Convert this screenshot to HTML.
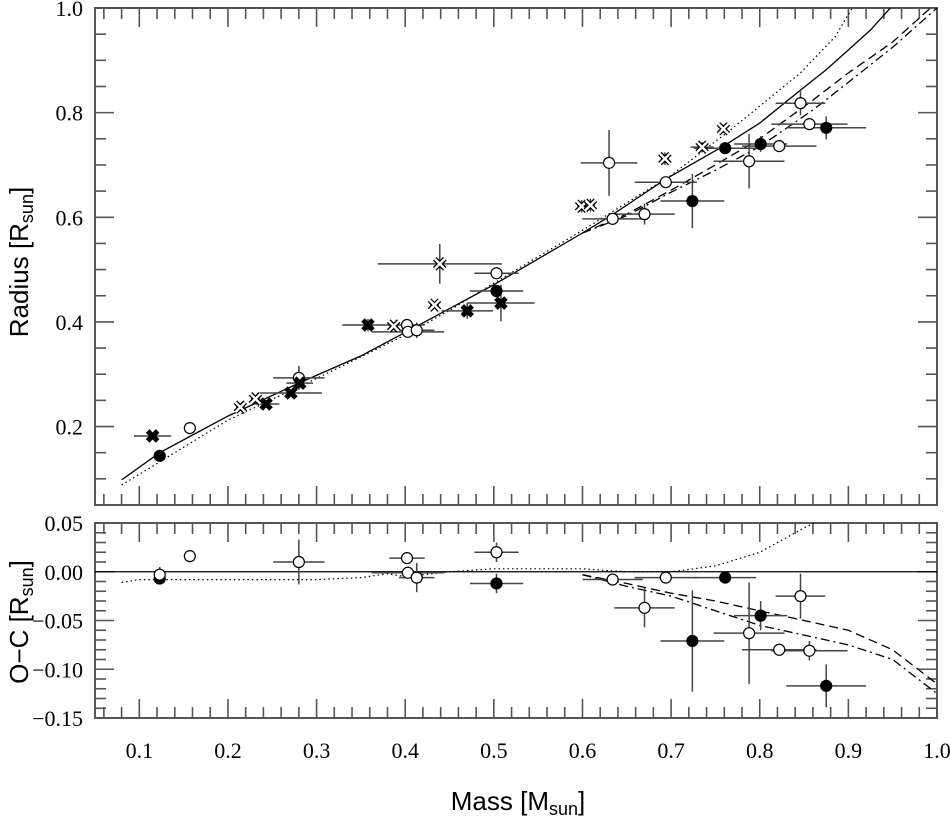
<!DOCTYPE html>
<html><head><meta charset="utf-8">
<style>
html,body{margin:0;padding:0;background:#fff;}
svg{display:block;}
.tl{font-family:"Liberation Serif","DejaVu Serif",serif;}
</style></head>
<body>
<svg id="chart" width="950" height="821" viewBox="0 0 950 821" xmlns="http://www.w3.org/2000/svg">
<defs>
<clipPath id="clipTop"><rect x="95" y="8" width="842" height="497"/></clipPath>
<clipPath id="clipBot"><rect x="95" y="523" width="842" height="195"/></clipPath>
</defs>
<g id="gTop"></g>
<g id="gBot"></g>
<text font-family="'Liberation Sans', sans-serif" font-size="26" transform="translate(28,262) rotate(-90)" text-anchor="middle">Radius [R<tspan font-size="18" dy="5">sun</tspan><tspan dy="-5">]</tspan></text>
<text font-family="'Liberation Sans', sans-serif" font-size="26" transform="translate(28,622) rotate(-90)" text-anchor="middle">O−C [R<tspan font-size="18" dy="5">sun</tspan><tspan dy="-5">]</tspan></text>
<text font-family="'Liberation Sans', sans-serif" font-size="26" x="518" y="810" text-anchor="middle">Mass [M<tspan font-size="18" dy="5">sun</tspan><tspan dy="-5">]</tspan></text>
</svg>
<script>
// ---- data ----
const openCircleMass   = [0.157,0.280,0.402,0.403,0.413,0.503,0.630,0.634,0.670,0.694,0.788,0.822,0.846,0.856];
const openCircleRadius = [0.197,0.293,0.394,0.381,0.384,0.493,0.704,0.597,0.606,0.667,0.707,0.736,0.818,0.778];
const openCircleMerr   = [0.006,0.029,0.020,0.041,0.020,0.025,0.032,0.034,0.034,0.035,0.040,0.042,0.028,0.043];
const openCircleRerr   = [0.004,0.023,0.005,0.005,0.015,0.010,0.063,0.005,0.020,0.010,0.052,0.005,0.023,0.010];
const filledCircleMass   = [0.123,0.503,0.724,0.761,0.801,0.875];
const filledCircleRadius = [0.144,0.459,0.631,0.732,0.740,0.771];
const filledCircleMerr   = [0.006,0.030,0.036,0.035,0.030,0.045];
const filledCircleRerr   = [0.005,0.010,0.052,0.005,0.015,0.022];
const filledCrossMass   = [0.115,0.243,0.271,0.281,0.358,0.470,0.508];
const filledCrossRadius = [0.182,0.243,0.264,0.283,0.394,0.421,0.436];
const filledCrossMerr   = [0.021,0.015,0.035,0.015,0.029,0.029,0.038];
const filledCrossRerr   = [0.006,0.005,0.005,0.010,0.012,0.015,0.035];
const openCrossMass   = [0.214,0.231,0.387,0.433,0.439,0.599,0.609,0.693,0.735,0.759];
const openCrossRadius = [0.237,0.253,0.392,0.432,0.511,0.621,0.623,0.712,0.734,0.769];
const openCrossMerr   = [0.005,0.005,0.005,0.005,0.070,0.005,0.005,0.003,0.013,0.003];
const openCrossRerr   = [0.005,0.005,0.005,0.005,0.038,0.012,0.012,0.012,0.010,0.008];
// residuals
const resOpenMass = [0.123,0.157,0.280,0.402,0.403,0.413,0.503,0.634,0.670,0.694,0.788,0.822,0.846,0.856];
const resOpenVal  = [-0.003,0.016,0.010,0.014,-0.001,-0.006,0.020,-0.008,-0.037,-0.006,-0.063,-0.080,-0.025,-0.081];
const resOpenMerr = [0.0,0.006,0.029,0.020,0.041,0.020,0.025,0.034,0.034,0.035,0.040,0.042,0.028,0.043];
const resOpenErr  = [0.008,0.005,0.023,0.005,0.005,0.015,0.010,0.005,0.020,0.005,0.052,0.005,0.023,0.010];
const resFilledMass = [0.123,0.503,0.724,0.761,0.801,0.875];
const resFilledVal  = [-0.007,-0.012,-0.071,-0.006,-0.045,-0.117];
const resFilledMerr = [0.0,0.030,0.036,0.035,0.030,0.045];
const resFilledErr  = [0.005,0.010,0.052,0.005,0.015,0.022];
// model curves
const solidMass   = [0.08,0.123,0.157,0.2,0.28,0.35,0.4,0.5,0.6,0.634,0.694,0.761,0.8,0.846,0.875,0.9,0.925,0.95];
const solidRadius = [0.098,0.15,0.181,0.22,0.283,0.335,0.38,0.471,0.57,0.605,0.673,0.738,0.78,0.843,0.882,0.92,0.958,1.005];
const dottedMass   = [0.08,0.2,0.3,0.35,0.4,0.45,0.5,0.6,0.7,0.767,0.846,0.885,0.906];
const dottedRadius = [0.088,0.212,0.292,0.333,0.375,0.422,0.474,0.575,0.68,0.767,0.876,0.945,1.005];
const dashedMass   = [0.6,0.65,0.7,0.75,0.8,0.86,0.9,0.95,0.99,1.0];
const dashedRadius = [0.57,0.606,0.652,0.70,0.75,0.824,0.876,0.935,0.996,1.012];
const dashdotMass   = [0.6,0.65,0.7,0.75,0.8,0.86,0.9,0.95,1.0];
const dashdotRadius = [0.57,0.603,0.648,0.69,0.735,0.805,0.858,0.925,1.0];
const resDottedMass = [0.08,0.1,0.2,0.3,0.35,0.38,0.4,0.45,0.5,0.6,0.65,0.7,0.75,0.8,0.85,0.88];
const resDottedVal  = [-0.011,-0.008,-0.008,-0.008,-0.006,-0.002,-0.005,0.0,0.003,0.003,0.0,0.0,0.006,0.02,0.045,0.058];
const resDashedMass = [0.6,0.65,0.7,0.75,0.8,0.85,0.9,0.95,1.0];
const resDashedVal  = [-0.003,-0.012,-0.022,-0.030,-0.040,-0.050,-0.060,-0.080,-0.115];
const resDashdotMass = [0.6,0.65,0.7,0.75,0.8,0.85,0.9,0.95,1.0];
const resDashdotVal  = [-0.003,-0.015,-0.025,-0.040,-0.055,-0.065,-0.075,-0.090,-0.125];
const xTickLabels = ["0.1","0.2","0.3","0.4","0.5","0.6","0.7","0.8","0.9","1.0"];
const yTopTickLabels = ["0.2","0.4","0.6","0.8","1.0"];
const yBotTickLabels = ["0.05","0.00","−0.05","−0.10","−0.15"];

// ---- scales ----
const X0=95,X1=937;
function xs(m){return X0+(m-0.05)/(0.95)*(X1-X0);}
function ysTop(r){return 505-(r-0.05)/0.95*(505-8);}
function ysBot(v){return 718-(v+0.15)/0.20*(718-523);}
const NS="http://www.w3.org/2000/svg";
function mk(tag,attrs,parent){const e=document.createElementNS(NS,tag);for(const k in attrs)e.setAttribute(k,attrs[k]);parent.appendChild(e);return e;}
const gTop=document.getElementById('gTop'), gBot=document.getElementById('gBot');

function frame(g,yTop,yBot,name){
  const r=mk('rect',{x:X0,y:yTop,width:X1-X0,height:yBot-yTop,fill:'none',stroke:'#555','stroke-width':2},g);
  
  
  for(let i=3;i<=50;i++){
    const m=i*0.02; if(m<0.05||m>1.0001)continue;
    const major=(i%5===0); const L=major?19:11; const x=xs(m);
    const t1=mk('line',{x1:x,x2:x,y1:yBot,y2:yBot-L,stroke:'#555','stroke-width':1.6},g);
    
    
    const t2=mk('line',{x1:x,x2:x,y1:yTop,y2:yTop+L,stroke:'#555','stroke-width':1.6},g);
    
    
  }
}
function curve(g,ms,vs,ysf,dash,name,clip){
  let d='';ms.forEach((m,i)=>{d+=(i?'L':'M')+xs(m).toFixed(1)+','+ysf(vs[i]).toFixed(1);});
  const p=mk('path',{d:d,fill:'none',stroke:'#000','stroke-width':dash==='dot'?1.2:1.3,'stroke-dasharray':dash==='dot'?'1.5,3':(dash==='dash'?'9,5':(dash==='dashdot'?'9,4,2,4':'none')),'clip-path':'url(#'+clip+')'},g);
  
  
}
function errbar(g,x,y,dx,dy,ysf,name){
  const cx=xs(x),cy=ysf(y);
  const ex=xs(x+dx)-cx, ey=Math.abs(ysf(y+dy)-cy);
  const h=mk('line',{x1:cx-ex,x2:cx+ex,y1:cy,y2:cy,stroke:'#444','stroke-width':1.5},g);
  
  
  const v=mk('line',{x1:cx,x2:cx,y1:cy-ey,y2:cy+ey,stroke:'#444','stroke-width':1.5},g);
  
  
}
function circ(g,x,y,ysf,filled,name){
  const c=mk('circle',{cx:xs(x),cy:ysf(y),r:5.5,fill:filled?'#000':'#fff',stroke:'#000','stroke-width':1.2},g);
  
  
}
function cross(g,x,y,ysf,filled,name){
  const cx=xs(x),cy=ysf(y),s=5;
  const d=`M${cx-s},${cy-s}L${cx+s},${cy+s}M${cx-s},${cy+s}L${cx+s},${cy-s}`;
  const p=mk('path',{d:d,stroke:'#000','stroke-width':5,fill:'none'},g);
  
  
  if(!filled){
    const q=mk('path',{d:d,stroke:'#fff','stroke-width':2.4,fill:'none'},g);
    
    
  }
}
function label(g,x,y,anchor,s,name){
  const t=mk('text',{x:x,y:y,'text-anchor':anchor,'class':'tl','font-size':22},g);
  t.textContent=s;
  
  
}

// ---- top panel ----
frame(gTop,8,505,'top-panel');
for(let i=1;i<=19;i++){
  const r=i*0.05; const y=ysTop(r);
  const major=(i%4===0); const L=major?19:11;
  const a=mk('line',{x1:X0,x2:X0+L,y1:y,y2:y,stroke:'#555','stroke-width':1.6},gTop);
  
  
  const b=mk('line',{x1:X1,x2:X1-L,y1:y,y2:y,stroke:'#555','stroke-width':1.6},gTop);
  
  
}
yTopTickLabels.forEach(s=>label(gTop,X0-12,ysTop(parseFloat(s))+8,'end',s,'y-tick-label'));
curve(gTop,solidMass,solidRadius,ysTop,'solid','model-solid','clipTop');
curve(gTop,dottedMass,dottedRadius,ysTop,'dot','model-dotted','clipTop');
curve(gTop,dashedMass,dashedRadius,ysTop,'dash','model-dashed','clipTop');
curve(gTop,dashdotMass,dashdotRadius,ysTop,'dashdot','model-dashdot','clipTop');
openCircleMass.forEach((m,i)=>errbar(gTop,m,openCircleRadius[i],openCircleMerr[i],openCircleRerr[i],ysTop,'open-circle'));
filledCircleMass.forEach((m,i)=>errbar(gTop,m,filledCircleRadius[i],filledCircleMerr[i],filledCircleRerr[i],ysTop,'filled-circle'));
filledCrossMass.forEach((m,i)=>errbar(gTop,m,filledCrossRadius[i],filledCrossMerr[i],filledCrossRerr[i],ysTop,'filled-cross'));
openCrossMass.forEach((m,i)=>errbar(gTop,m,openCrossRadius[i],openCrossMerr[i],openCrossRerr[i],ysTop,'open-cross'));
openCircleMass.forEach((m,i)=>circ(gTop,m,openCircleRadius[i],ysTop,false,'open-circle-point'));
filledCircleMass.forEach((m,i)=>circ(gTop,m,filledCircleRadius[i],ysTop,true,'filled-circle-point'));
filledCrossMass.forEach((m,i)=>cross(gTop,m,filledCrossRadius[i],ysTop,true,'filled-cross-point'));
openCrossMass.forEach((m,i)=>cross(gTop,m,openCrossRadius[i],ysTop,false,'open-cross-point'));

// ---- bottom panel ----
frame(gBot,523,718,'bottom-panel');
for(let i=-15;i<=5;i++){
  const v=i*0.01; const y=ysBot(v);
  const major=(i%5===0); const L=major?19:11;
  const a=mk('line',{x1:X0,x2:X0+L,y1:y,y2:y,stroke:'#555','stroke-width':1.6},gBot);
  
  
  const b=mk('line',{x1:X1,x2:X1-L,y1:y,y2:y,stroke:'#555','stroke-width':1.6},gBot);
  
  
}
yBotTickLabels.forEach(s=>label(gBot,X0-12,ysBot(parseFloat(s.replace('−','-')))+8,'end',s,'res-y-tick-label'));
xTickLabels.forEach(s=>label(gBot,xs(parseFloat(s)),758,'middle',s,'x-tick-label'));
const zl=mk('line',{x1:X0,x2:X1,y1:ysBot(0),y2:ysBot(0),stroke:'#000','stroke-width':1.2},gBot);


curve(gBot,resDottedMass,resDottedVal,ysBot,'dot','res-dotted','clipBot');
curve(gBot,resDashedMass,resDashedVal,ysBot,'dash','res-dashed','clipBot');
curve(gBot,resDashdotMass,resDashdotVal,ysBot,'dashdot','res-dashdot','clipBot');
resOpenMass.forEach((m,i)=>errbar(gBot,m,resOpenVal[i],resOpenMerr[i],resOpenErr[i],ysBot,'res-open'));
resFilledMass.forEach((m,i)=>errbar(gBot,m,resFilledVal[i],resFilledMerr[i],resFilledErr[i],ysBot,'res-filled'));
resFilledMass.forEach((m,i)=>circ(gBot,m,resFilledVal[i],ysBot,true,'res-filled-point'));
resOpenMass.forEach((m,i)=>circ(gBot,m,resOpenVal[i],ysBot,false,'res-open-point'));
</script>
</body></html>
